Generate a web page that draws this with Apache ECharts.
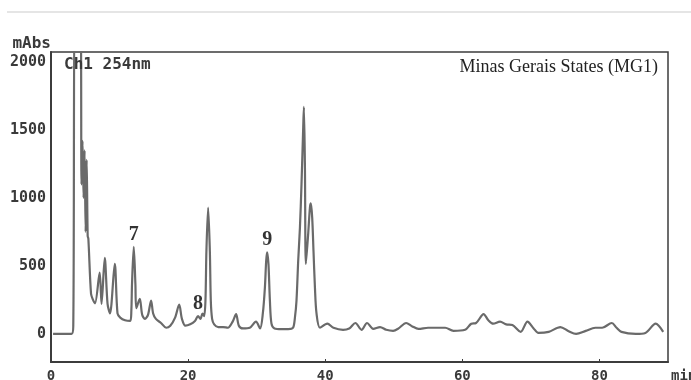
<!DOCTYPE html>
<html>
<head>
<meta charset="utf-8">
<script src="https://cdn.jsdelivr.net/npm/echarts@6/dist/echarts.min.js"></script>
<style>
  html, body { margin: 0; padding: 0; background: #fff; }
  #chart { width: 691px; height: 380px; }
</style>
</head>
<body>
<div id="chart"></div>
<script>
// Retention time (min) of each sampled point of the trace
var retentionTime = [
  0.3, 3.0, 3.25, 3.55, 4.3, 4.45, 4.6, 4.75, 4.9, 5.05, 5.2, 5.35, 5.45,
  5.84, 6.13, 6.42, 7.1, 7.37, 7.84, 8.25, 8.6, 9.3, 9.7, 10.1, 10.8,
  11.55, 11.72, 11.82, 12.07, 12.31, 12.45, 12.95, 13.3, 13.7, 14.15, 14.6,
  14.9, 15.3, 16.05, 16.8, 17.4, 18.1, 18.7, 19.1, 19.6, 20.3, 21.0, 21.45,
  21.8, 22.1, 22.34, 22.53, 22.67, 22.92, 23.17, 23.31, 23.5, 23.8, 24.4,
  25.1, 25.8, 26.5, 27.0, 27.4, 28.0, 29.0, 29.9, 30.5, 30.9, 31.2, 31.39,
  31.53, 31.72, 31.93, 32.16, 32.6, 33.6, 34.6, 35.3, 35.58, 35.81, 36.06,
  36.31, 36.54, 36.79, 36.89, 37.04, 37.18, 37.52, 37.77, 37.91, 38.1,
  38.29, 38.5, 38.73, 39.23, 40.3, 41.2, 42.6, 43.5, 44.4, 45.3, 46.1,
  47.0, 48.0, 48.9, 49.9, 50.7, 51.8, 52.7, 53.6, 55.0, 56.5, 57.5, 58.7,
  60.4, 61.3, 62.0, 63.1, 63.8, 64.5, 65.5, 66.4, 67.3, 68.5, 69.5, 70.4,
  71.1, 72.6, 74.3, 75.5, 76.6, 78.0, 79.4, 80.4, 81.8, 82.5, 83.2, 85.3,
  86.7, 88.2, 89.3
];

// Detector response (mAbs) at 254 nm for each retention time
var absorbance = [
  0, 0, 60, 2400, 2400, 1100, 1420, 1000, 1350, 750, 1280, 720, 700,
  295, 250, 225, 450, 220, 560, 220, 150, 515, 150, 120, 100,
  95, 170, 370, 640, 370, 190, 258, 140, 110, 140, 245,
  150, 110, 80, 45, 60, 120, 215, 110, 60, 70, 95, 130,
  110, 150, 130, 245, 610, 930, 610, 245, 110, 70, 50,
  50, 45, 90, 145, 60, 40, 45, 90, 40, 150, 340, 540,
  600, 515, 245, 75, 40, 35, 35, 45, 120, 245, 540,
  780, 1100, 1520, 1670, 1225, 515, 740, 930, 960, 855,
  610, 340, 150, 45, 75, 45, 30, 40, 80, 30, 80,
  37, 50, 30, 22, 40, 80, 55, 37, 45, 45, 45, 22,
  30, 75, 80, 145, 100, 75, 90, 70, 65, 15, 90, 40,
  7, 15, 50, 20, 0, 22, 45, 45, 80, 45, 15, 0,
  7, 75, 15
];

// Numbered peaks: label and retention time of the apex
var peakNames = ['7', '8', '9'];
var peakTimes = [12.07, 21.45, 31.53];

// Axis tick labels
var xTicks = [0, 20, 40, 60, 80];
var yTicks = [0, 500, 1000, 1500, 2000];

var trace = retentionTime.map(function (t, i) { return [t, absorbance[i]]; });
var peaks = peakNames.map(function (name, i) {
  var idx = retentionTime.indexOf(peakTimes[i]);
  return { value: [peakTimes[i], absorbance[idx]], name: name };
});

var mono = 'DejaVu Sans Mono';
var serif = 'Liberation Serif';
var ink = '#3a3a3a';
var plain = function (v) { return String(v); };

var chart = echarts.init(document.getElementById('chart'), null, { renderer: 'canvas' });
chart.setOption({
  animation: false,
  backgroundColor: '#fff',
  title: [
    {
      text: 'Ch1 254nm', left: 59, top: 52,
      textStyle: { fontFamily: mono, fontSize: 16, fontWeight: 'bold', color: ink }
    },
    {
      text: 'Minas Gerais States (MG1)', right: 28, top: 53,
      textStyle: { fontFamily: serif, fontSize: 18, fontWeight: 'normal', color: '#222' }
    }
  ],
  graphic: [
    {
      type: 'line', silent: true,
      shape: { x1: 7, y1: 12, x2: 691, y2: 12 },
      style: { stroke: '#dcdcdc', lineWidth: 1.5 }
    }
  ],
  grid: {
    left: 51, right: 23, top: 52, bottom: 18,
    outerBoundsMode: 'none', containLabel: false,
    show: true, borderColor: '#3c3c3c', borderWidth: 1.5
  },
  xAxis: {
    type: 'value', min: 0, max: 90,
    name: 'min', nameLocation: 'end', nameGap: 3,
    nameTextStyle: { fontFamily: mono, fontSize: 14, fontWeight: 'bold', color: ink,
      align: 'left', verticalAlign: 'top', padding: [7, 0, 0, 0] },
    axisLine: { show: true, onZero: false, lineStyle: { color: '#3c3c3c', width: 2 } },
    axisTick: { show: true, inside: true, length: 3, customValues: xTicks,
      lineStyle: { color: '#3c3c3c' } },
    axisLabel: { customValues: xTicks, formatter: plain, margin: 7, fontFamily: mono,
      fontSize: 14, fontWeight: 'bold', color: ink },
    splitLine: { show: false }
  },
  yAxis: {
    type: 'value', min: -207, max: 2074,
    name: 'mAbs', nameLocation: 'end', nameGap: 0,
    nameTextStyle: { fontFamily: mono, fontSize: 16, fontWeight: 'bold', color: ink,
      align: 'right', padding: [0, 0, 0, 0] },
    axisLine: { show: true, onZero: false, lineStyle: { color: '#3c3c3c', width: 2 } },
    axisTick: { show: false },
    axisLabel: { customValues: yTicks, formatter: plain, margin: 5, fontFamily: mono,
      fontSize: 15, fontWeight: 'bold', color: ink },
    splitLine: { show: false }
  },
  series: [
    {
      type: 'line', data: trace, showSymbol: false, clip: true,
      smooth: 0.3,
      lineStyle: { color: '#6a6a6a', width: 2.2 }
    },
    {
      type: 'scatter', data: peaks, symbolSize: 0, silent: true,
      label: {
        show: true, position: 'top', distance: 2,
        formatter: function (p) { return p.name; },
        fontFamily: serif, fontSize: 20, fontWeight: 900, color: '#000'
      }
    }
  ]
});
</script>
</body>
</html>
